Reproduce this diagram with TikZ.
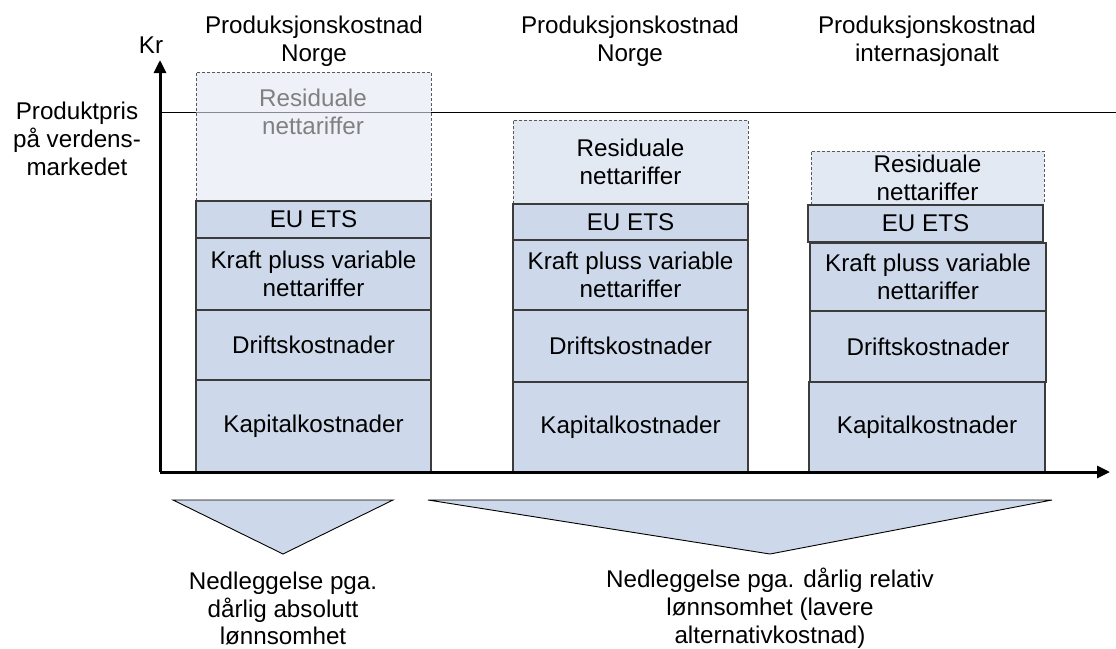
\documentclass[tikz,border=0pt]{standalone}
\usepackage{fontspec}
\setmainfont{Liberation Sans}
\usetikzlibrary{arrows.meta}
\definecolor{boxfill}{RGB}{205,217,234}
\definecolor{resfill}{RGB}{226,233,243}
\definecolor{boxline}{RGB}{60,60,60}
\definecolor{restext}{RGB}{128,128,128}
\tikzset{
  every node/.style={font=\fontsize{24.2}{27.8}\selectfont, inner sep=0pt, outer sep=0pt},
  cb/.style={draw=boxline, line width=1.2pt, fill=boxfill, align=center, anchor=north west},
  resbox/.style={draw=boxline!85, line width=1pt, dash pattern=on 3pt off 2pt, fill=resfill, align=center, anchor=north west},
  lbl/.style={align=center},
  axisline/.style={line width=3pt, -{Triangle[length=13pt,width=12pt]}},
  tri/.style={draw=black, line width=0.9pt, fill=boxfill, line join=miter},
}
\begin{document}
\begin{tikzpicture}[x=1pt,y=-1pt]
\useasboundingbox (0,0) rectangle (1116,648);

% coordinates
\coordinate (origin) at (160,472);
\coordinate (ytip) at (160,60);
\coordinate (xtip) at (1110,472);
\coordinate (pl) at (160,112);
\coordinate (pr) at (1116,112);

% price line
\draw[line width=1pt] (pl) -- (pr);

% Column 1
\node[resbox, fill opacity=0.6, minimum width=235, minimum height=129] (r1) at (196,72) {};
\node[lbl, text=restext] (r1t) at (313,112) {Residuale\\nettariffer};
\node[cb, minimum width=235, minimum height=37] (e1) at (196,201) {EU ETS};
\node[cb, minimum width=235, minimum height=72] (k1) at (196,238) {Kraft pluss variable\\nettariffer};
\node[cb, minimum width=235, minimum height=70] (d1) at (196,310) {Driftskostnader};
\node[cb, minimum width=235, minimum height=92] (c1) at (196,380) {Kapitalkostnader};

% Column 2
\node[resbox, minimum width=235, minimum height=84] (r2) at (513,120) {Residuale\\nettariffer};
\node[cb, minimum width=235, minimum height=36] (e2) at (513,204) {EU ETS};
\node[cb, minimum width=235, minimum height=70] (k2) at (513,240) {Kraft pluss variable\\nettariffer};
\node[cb, minimum width=235, minimum height=72] (d2) at (513,310) {Driftskostnader};
\node[cb, minimum width=235, minimum height=90] (c2) at (513,382) {Kapitalkostnader};

% Column 3
\node[resbox, minimum width=233, minimum height=53] (r3) at (811,151) {};
\node[lbl] (r3t) at (927.5,178) {Residuale\\nettariffer};
\node[cb, minimum width=235, minimum height=37] (e3) at (808,205) {EU ETS};
\node[cb, minimum width=236, minimum height=68] (k3) at (810,243) {Kraft pluss variable\\nettariffer};
\node[cb, minimum width=236, minimum height=71] (d3) at (810,311) {Driftskostnader};
\node[cb, minimum width=236, minimum height=90] (c3) at (809,382) {Kapitalkostnader};

% Axes
\draw[axisline] (origin) -- (ytip);
\draw[axisline] (origin) -- (xtip);

% Headers
\node[lbl] (h1) at (314,41.5) {Produksjonskostnad\\Norge};
\node[lbl] (h2) at (630,41.5) {Produksjonskostnad\\Norge};
\node[lbl] (h3) at (927,41.5) {Produksjonskostnad\\internasjonalt};
\node[lbl] (kr) at (151,45) {Kr};
\node[lbl] (pp) at (77,139) {Produktpris\\på verdens-\\markedet};

% Triangles
\draw[tri] (173,500) -- (393,500) -- (283,554) -- cycle;
\draw[tri] (428,500) -- (1052,500) -- (770,554) -- cycle;

% Bottom texts
\node[lbl] (b1) at (283,608.5) {Nedleggelse pga.\\dårlig absolutt\\lønnsomhet};
\node[lbl] (b2) at (770,608.5) {Nedleggelse pga. dårlig relativ\\lønnsomhet (lavere\\alternativkostnad)};
\end{tikzpicture}
\end{document}
